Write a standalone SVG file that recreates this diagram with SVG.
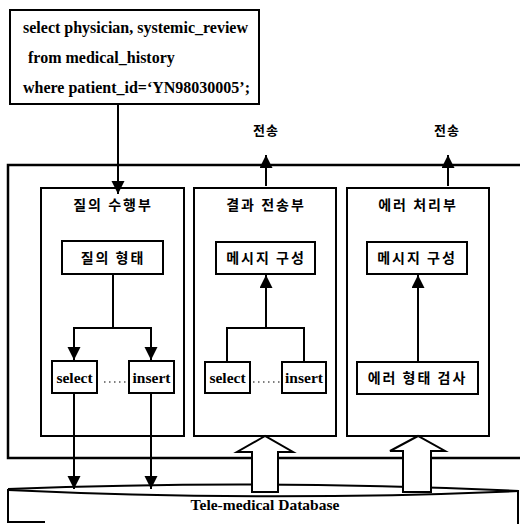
<svg xmlns="http://www.w3.org/2000/svg" width="520" height="524" viewBox="0 0 520 524">
  <defs>
    <marker id="head" markerUnits="userSpaceOnUse" markerWidth="14" markerHeight="14" refX="13" refY="6.5" orient="auto">
      <path d="M0,0 L13,6.5 L0,13 z" fill="#000"/>
    </marker>
    <style>
      .box { fill: #fff; stroke: #000; stroke-width: 2; }
      .frame { fill: none; stroke: #000; stroke-width: 2.5; }
      .wire { fill: none; stroke: #000; stroke-width: 2; }
      .arrow { fill: none; stroke: #000; stroke-width: 2; marker-end: url(#head); }
      .dots { fill: none; stroke: #000; stroke-width: 1.2; stroke-dasharray: 1.5 3.5; }
      .hollow { fill: #fff; stroke: #000; stroke-width: 2; stroke-linejoin: miter; }
      .en { font-family: "Liberation Serif", "Times New Roman", serif; font-weight: bold; fill: #000; }
      .ko { font-family: "Noto Sans CJK KR", "Noto Sans", sans-serif; font-weight: bold; fill: #000; }
    </style>
  </defs>

  <rect width="520" height="524" fill="#fff"/>

  <!-- SQL query -->
  <g id="query">
    <rect class="box" x="10" y="10" width="249" height="94"/>
    <text class="en" font-size="16" x="23" y="33">select physician, systemic_review</text>
    <text class="en" font-size="16" x="28" y="63">from medical_history</text>
    <text class="en" font-size="16" x="23" y="93">where patient_id=‘YN98030005’;</text>
  </g>

  <!-- outer system frame (open to the right) -->
  <g id="system">
    <path class="frame" d="M520,165 H8 V458 H520"/>
  </g>

  <!-- query execution unit -->
  <g id="query-exec">
    <rect class="box" x="41" y="188" width="143" height="248"/>
    <text class="ko" font-size="14" x="113" y="210" text-anchor="middle" letter-spacing="2">질의 수행부</text>
    <g id="query-type">
      <rect class="box" x="62" y="241" width="101" height="33"/>
      <text class="ko" font-size="14" x="113" y="263" text-anchor="middle" letter-spacing="2">질의 형태</text>
    </g>
    <g id="qe-select">
      <rect class="box" x="52" y="361" width="45" height="32"/>
      <text class="en" font-size="15.5" x="74.5" y="382.5" text-anchor="middle">select</text>
    </g>
    <g id="qe-insert">
      <rect class="box" x="129" y="361" width="45" height="32"/>
      <text class="en" font-size="15.5" x="151.5" y="382.5" text-anchor="middle">insert</text>
    </g>
  </g>

  <!-- result transmission unit -->
  <g id="result-send">
    <rect class="box" x="194" y="188" width="142" height="248"/>
    <text class="ko" font-size="14" x="266" y="210" text-anchor="middle" letter-spacing="2">결과 전송부</text>
    <g id="rs-message">
      <rect class="box" x="216" y="242" width="99" height="32"/>
      <text class="ko" font-size="14" x="266" y="263" text-anchor="middle" letter-spacing="2">메시지 구성</text>
    </g>
    <g id="rs-select">
      <rect class="box" x="205" y="362" width="45" height="31"/>
      <text class="en" font-size="15.5" x="227.5" y="382.5" text-anchor="middle">select</text>
    </g>
    <g id="rs-insert">
      <rect class="box" x="282" y="362" width="44" height="31"/>
      <text class="en" font-size="15.5" x="304" y="382.5" text-anchor="middle">insert</text>
    </g>
  </g>

  <!-- error handling unit -->
  <g id="error-handle">
    <rect class="box" x="347" y="188" width="142" height="248"/>
    <text class="ko" font-size="14" x="418" y="210" text-anchor="middle" letter-spacing="2">에러 처리부</text>
    <g id="eh-message">
      <rect class="box" x="367" y="242" width="100" height="32"/>
      <text class="ko" font-size="14" x="417" y="263" text-anchor="middle" letter-spacing="2">메시지 구성</text>
    </g>
    <g id="eh-check">
      <rect class="box" x="357" y="362" width="121" height="32"/>
      <text class="ko" font-size="14" x="417.5" y="383" text-anchor="middle" letter-spacing="2">에러 형태 검사</text>
    </g>
  </g>

  <!-- database -->
  <g id="database">
    <path fill="#fff" stroke="none" d="M8,489 Q264,479 519,491 V524 H8 z"/>
    <path class="wire" d="M8,489 Q264,479 519,491"/>
    <path class="wire" d="M8,490 Q264,502 519,491"/>
    <path class="wire" d="M8,489 V522 H45"/>
    <path class="wire" d="M518,491 V524"/>
    <text class="en" font-size="15.5" x="265" y="510" text-anchor="middle">Tele-medical Database</text>
  </g>

  <!-- transmit labels -->
  <g id="send-labels">
    <text class="ko" font-size="13" x="266" y="135" text-anchor="middle" letter-spacing="1">전송</text>
    <text class="ko" font-size="13" x="447" y="135" text-anchor="middle" letter-spacing="1">전송</text>
  </g>

  <!-- connectors -->
  <g id="connectors">
    <line class="arrow" x1="118" y1="104" x2="118" y2="194"/>
    <line class="arrow" x1="266" y1="186" x2="266" y2="155"/>
    <line class="arrow" x1="448" y1="186" x2="448" y2="155"/>

    <path class="wire" d="M113,274 V328"/>
    <path class="wire" d="M74,328 H151"/>
    <line class="arrow" x1="74" y1="327" x2="74" y2="360"/>
    <line class="arrow" x1="151" y1="327" x2="151" y2="360"/>
    <line class="dots" x1="104" y1="382" x2="127" y2="382"/>

    <path class="wire" d="M227,362 V328 H304 V362"/>
    <line class="arrow" x1="266" y1="328" x2="266" y2="275"/>
    <line class="dots" x1="253" y1="382" x2="280" y2="382"/>

    <line class="arrow" x1="418" y1="362" x2="418" y2="275"/>

    <line class="arrow" x1="74" y1="393" x2="74" y2="489"/>
    <line class="arrow" x1="151" y1="393" x2="151" y2="489"/>

    <polygon class="hollow" points="265,436 237,452 252,452 252,492 278,492 278,452 293,452"/>
    <polygon class="hollow" points="418,436 390,451 403,451 403,492 431,492 431,451 445,451"/>
  </g>
</svg>
